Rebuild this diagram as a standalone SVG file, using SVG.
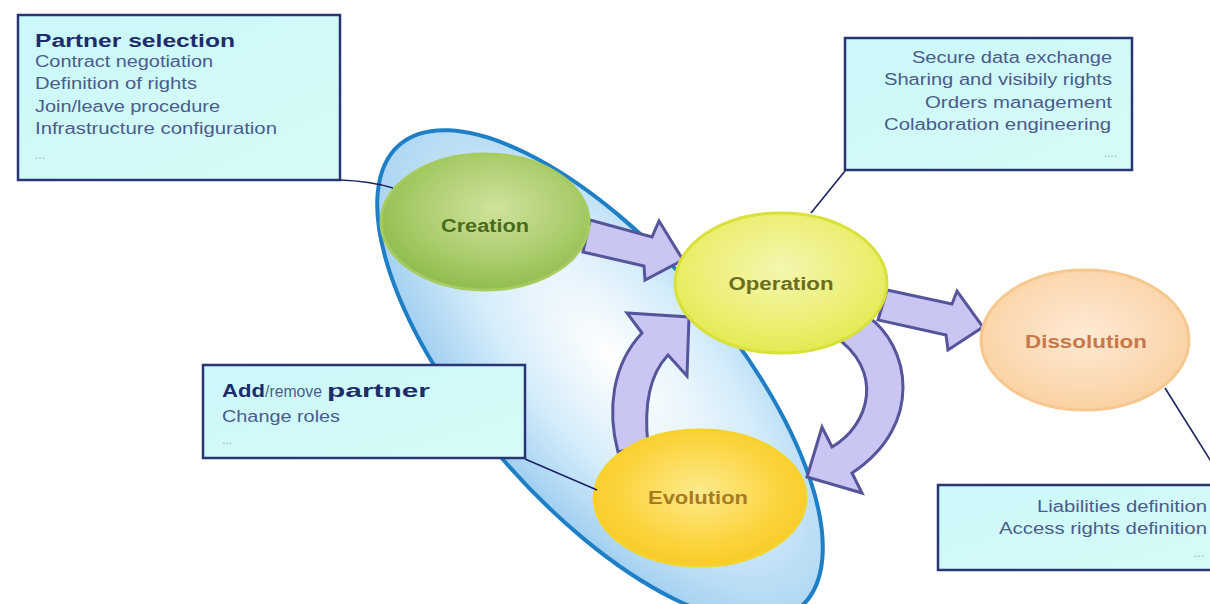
<svg xmlns="http://www.w3.org/2000/svg" width="1210" height="604" viewBox="0 0 1210 604">
<style>
  .box { fill: url(#boxGrad); stroke: #2a3674; stroke-width: 2.5; }
  .body { font-family: "Liberation Sans", Arial, sans-serif; font-size: 16px; fill: #4a5c8c; }
  .title { font-family: "Liberation Sans", Arial, sans-serif; font-size: 18px; font-weight: bold; fill: #1e2c6c; }
  .dots { font-family: "Liberation Sans", Arial, sans-serif; font-size: 12px; fill: #9ab0c8; }
  .node-label { font-family: "Liberation Sans", Arial, sans-serif; font-size: 18px; font-weight: bold; text-anchor: middle; }
  .arrow { fill: #c9c6f3; stroke: #55559a; stroke-width: 3; stroke-linejoin: miter; }
  .conn { fill: none; stroke: #1c2262; stroke-width: 1.6; }
</style>
<defs>
  <linearGradient id="boxGrad" x1="0" y1="0" x2="1" y2="1">
    <stop offset="0" stop-color="#cbf8fa"/>
    <stop offset="1" stop-color="#d6fbf6"/>
  </linearGradient>
  <radialGradient id="bigGrad" cx="0.5" cy="0.42" r="0.6">
    <stop offset="0" stop-color="#ffffff"/>
    <stop offset="0.55" stop-color="#d4ecfa"/>
    <stop offset="1" stop-color="#9ccdf0"/>
  </radialGradient>
  <radialGradient id="greenGrad" cx="0.55" cy="0.4" r="0.65">
    <stop offset="0" stop-color="#cfe39c"/>
    <stop offset="0.6" stop-color="#a9cc6a"/>
    <stop offset="1" stop-color="#8cb84a"/>
  </radialGradient>
  <radialGradient id="yellowGrad" cx="0.5" cy="0.4" r="0.65">
    <stop offset="0" stop-color="#f4f6b0"/>
    <stop offset="0.6" stop-color="#ecef74"/>
    <stop offset="1" stop-color="#e2e84a"/>
  </radialGradient>
  <radialGradient id="orangeGrad" cx="0.5" cy="0.45" r="0.65">
    <stop offset="0" stop-color="#feead4"/>
    <stop offset="0.6" stop-color="#fcd9b2"/>
    <stop offset="1" stop-color="#f9cc9a"/>
  </radialGradient>
  <radialGradient id="goldGrad" cx="0.5" cy="0.45" r="0.65">
    <stop offset="0" stop-color="#fde98c"/>
    <stop offset="0.6" stop-color="#fbd43c"/>
    <stop offset="1" stop-color="#f8c41c"/>
  </radialGradient>
</defs>
<rect x="0" y="0" width="1210" height="604" fill="#ffffff"/>

<g id="lifecycle-area">
  <ellipse cx="600" cy="376" rx="306" ry="128" transform="rotate(49 600 376)" fill="url(#bigGrad)" stroke="#1e7fc6" stroke-width="4"/>
</g>

<g id="arrows">
  <path class="arrow" d="M 590 220 L 652 237 L 659 221 L 683 260 L 645 280 L 644 266 L 583 252 Z"/>
  <path class="arrow" d="M 887 290 L 952 304 L 957 291 L 983 327 L 948 350 L 946 335 L 878 320 Z"/>
  <path class="arrow" d="M 618 452 C 607 410, 612 365, 642 333 L 627 313 L 689 317 L 687 376 L 668 355 C 652 372, 643 400, 648 445 Z"/>
  <path class="arrow" d="M 867 316 C 910 345, 925 425, 852 473 L 862 493 L 807 477 L 822 427 L 832 447 C 870 425, 885 370, 834 336 Z"/>
</g>

<g id="node-creation">
  <ellipse cx="485" cy="222" rx="104" ry="68" fill="url(#greenGrad)" stroke="#a6cb5e" stroke-width="3"/>
  <text class="node-label" x="485" y="232" fill="#4a6a1e" textLength="88" lengthAdjust="spacingAndGlyphs">Creation</text>
</g>

<g id="node-operation">
  <ellipse cx="781" cy="283" rx="106" ry="70" fill="url(#yellowGrad)" stroke="#d8e03a" stroke-width="3"/>
  <text class="node-label" x="781" y="290" fill="#6a6e1e" textLength="105" lengthAdjust="spacingAndGlyphs">Operation</text>
</g>

<g id="node-dissolution">
  <ellipse cx="1085" cy="340" rx="104" ry="70" fill="url(#orangeGrad)" stroke="#f6c890" stroke-width="3"/>
  <text class="node-label" x="1086" y="348" fill="#c87848" textLength="122" lengthAdjust="spacingAndGlyphs">Dissolution</text>
</g>

<g id="node-evolution">
  <ellipse cx="700" cy="498" rx="106" ry="68" fill="url(#goldGrad)" stroke="#f6d22c" stroke-width="3"/>
  <text class="node-label" x="698" y="504" fill="#a87a22" textLength="100" lengthAdjust="spacingAndGlyphs">Evolution</text>
</g>

<g id="connectors">
  <path class="conn" d="M 340 180 Q 370 181 393 188"/>
  <path class="conn" d="M 845 171 L 811 213"/>
  <path class="conn" d="M 525 459 L 597 490"/>
  <path class="conn" d="M 1165 388 L 1212 463"/>
</g>

<g id="callout-partner-selection">
  <rect class="box" x="18" y="15" width="322" height="165"/>
  <text class="title" x="35" y="47" textLength="200" lengthAdjust="spacingAndGlyphs">Partner selection</text>
  <text class="body" x="35" y="67" textLength="178" lengthAdjust="spacingAndGlyphs">Contract negotiation</text>
  <text class="body" x="35" y="89" textLength="162" lengthAdjust="spacingAndGlyphs">Definition of rights</text>
  <text class="body" x="35" y="112" textLength="185" lengthAdjust="spacingAndGlyphs">Join/leave procedure</text>
  <text class="body" x="35" y="134" textLength="242" lengthAdjust="spacingAndGlyphs">Infrastructure configuration</text>
  <text class="dots" x="35" y="159">...</text>
</g>

<g id="callout-operation">
  <rect class="box" x="845" y="38" width="287" height="132"/>
  <text class="body" x="1112" y="63" text-anchor="end" textLength="200" lengthAdjust="spacingAndGlyphs">Secure data exchange</text>
  <text class="body" x="1112" y="85" text-anchor="end" textLength="228" lengthAdjust="spacingAndGlyphs">Sharing and visibily rights</text>
  <text class="body" x="1112" y="108" text-anchor="end" textLength="187" lengthAdjust="spacingAndGlyphs">Orders management</text>
  <text class="body" x="1111" y="130" text-anchor="end" textLength="227" lengthAdjust="spacingAndGlyphs">Colaboration engineering</text>
  <text class="dots" x="1117" y="157" text-anchor="end">....</text>
</g>

<g id="callout-evolution">
  <rect class="box" x="203" y="365" width="322" height="93"/>
  <text class="title" x="222" y="397" textLength="43" lengthAdjust="spacingAndGlyphs">Add</text>
  <text class="body" x="265" y="397" font-size="14" textLength="57" lengthAdjust="spacingAndGlyphs">/remove</text>
  <text class="title" x="327" y="397" textLength="103" lengthAdjust="spacingAndGlyphs">partner</text>
  <text class="body" x="222" y="422" textLength="118" lengthAdjust="spacingAndGlyphs">Change roles</text>
  <text class="dots" x="222" y="444">...</text>
</g>

<g id="callout-dissolution">
  <rect class="box" x="938" y="485" width="284" height="85"/>
  <text class="body" x="1207" y="512" text-anchor="end" textLength="170" lengthAdjust="spacingAndGlyphs">Liabilities definition</text>
  <text class="body" x="1207" y="534" text-anchor="end" textLength="208" lengthAdjust="spacingAndGlyphs">Access rights definition</text>
  <text class="dots" x="1204" y="557" text-anchor="end">...</text>
</g>
</svg>
